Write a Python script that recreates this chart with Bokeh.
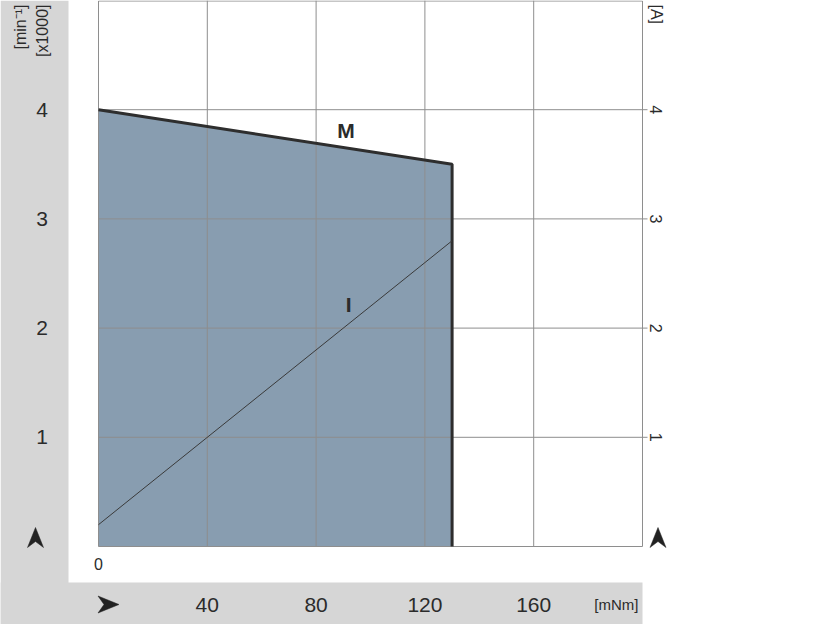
import math
from bokeh.plotting import figure
from bokeh.models import Range1d
from bokeh.embed import file_html
from bokeh.resources import INLINE
from bokeh.core.properties import value

# ---- data ----
torque = [0, 130]          # mNm
speed = [4.0, 3.5]         # min^-1 x1000 (M curve)
current = [0.2, 2.8]       # A (I curve)
x_ticks = [40, 80, 120, 160]
x_tick_labels = ["40", "80", "120", "160"]
y_ticks = [1, 2, 3, 4]
y_tick_labels = ["1", "2", "3", "4"]
a_ticks = [1, 2, 3, 4]
a_tick_labels = ["1", "2", "3", "4"]
curve_labels = ["M", "I"]
label_x = [91, 92]
label_y = [3.81, 2.22]

FONT = value("Liberation Sans")
GRAY_BAND = "#d6d6d6"
GRID = "#8e8e8e"
TXT = "#2b2b2b"

W, H = 816, 624
X0, X1 = 0, 200
Y0, Y1 = 0, 5
FL, FR, FT, FB = 98, 642, 0, 546   # plot-area edges in page pixels
SX = (X1 - X0) / (FR - FL)          # data units per pixel
SY = (Y1 - Y0) / (FB - FT)


def dx(px):
    return X0 + (px - FL) * SX


def dy(py):
    return Y0 + (FB - py) * SY


p = figure(width=W, height=H, x_range=Range1d(dx(0), dx(W)), y_range=Range1d(dy(H), dy(0)),
           output_backend="svg", toolbar_location=None,
           min_border=0, x_axis_location=None, y_axis_location=None,
           background_fill_color="white", border_fill_color="white")
p.outline_line_color = None
p.xgrid.visible = False
p.ygrid.visible = False

# gray bands
p.quad(left=[dx(0), dx(0)], right=[dx(68), dx(FR)], bottom=[dy(H), dy(H)], top=[dy(0), dy(582)],
       fill_color=GRAY_BAND, line_color=None)

# filled operating area
p.varea(x=torque, y1=[Y0, Y0], y2=speed, fill_color="#889db0", fill_alpha=1)

# grid lines
p.segment(x0=x_ticks, y0=[Y0] * len(x_ticks), x1=x_ticks, y1=[Y1] * len(x_ticks),
          line_color=GRID, line_width=1)
p.segment(x0=[X0] * len(y_ticks), y0=y_ticks, x1=[X1] * len(y_ticks), y1=y_ticks,
          line_color=GRID, line_width=1)
# plot-area border
p.quad(left=[X0], right=[X1], bottom=[Y0], top=[Y1 - SY * 0.5], fill_color=None,
       line_color=GRID, line_width=1)
# right axis ticks
p.segment(x0=[X1] * len(a_ticks), y0=a_ticks, x1=[X1 + 5 * SX] * len(a_ticks), y1=a_ticks,
          line_color=GRID, line_width=1)

# M line with vertical drop
p.line(x=torque + [torque[-1]], y=speed + [Y0], line_color="#2e2e2e", line_width=3)
# I line
p.line(x=torque, y=current, line_color="#3a3a3a", line_width=1)

p.text(x=label_x, y=label_y, text=curve_labels, text_font=FONT,
       text_font_size="21px", text_font_style="bold", text_color=TXT,
       text_align="center", text_baseline="middle")

# left tick labels (speed x1000)
p.text(x=[dx(41.5)] * len(y_ticks), y=y_ticks, text=y_tick_labels, text_font=FONT,
       text_font_size="21px", text_color=TXT, text_align="center", text_baseline="middle")
# bottom tick labels
p.text(x=x_ticks, y=[dy(604)] * len(x_ticks), text=x_tick_labels, text_font=FONT,
       text_font_size="21px", text_color=TXT, text_align="center", text_baseline="middle")
p.text(x=[X0], y=[dy(563)], text=["0"], text_font=FONT,
       text_font_size="16px", text_color=TXT, text_align="center", text_baseline="middle")
# right tick labels (current)
p.text(x=[X1 + 13 * SX] * len(a_ticks), y=a_ticks, text=a_tick_labels, text_font=FONT,
       text_font_size="16px", text_color=TXT, text_align="center", text_baseline="middle",
       angle=-math.pi / 2)

# unit labels
p.text(x=[dx(20), dx(42)], y=[dy(4), dy(4)], text=["[min\u207b\u00b9]", "[x1000]"],
       text_font=FONT, text_font_size="16px", text_color=TXT, text_align="right",
       text_baseline="middle", angle=math.pi / 2)
p.text(x=[dx(656)], y=[dy(4)], text=["[A]"], text_font=FONT, text_font_size="16px",
       text_color=TXT, text_align="left", text_baseline="middle", angle=-math.pi / 2)
p.text(x=[dx(638)], y=[dy(604)], text=["[mNm]"], text_font=FONT, text_font_size="15px",
       text_color=TXT, text_align="right", text_baseline="middle")


# arrowheads (stealth shape), defined in page pixels around a centre
def up_arrow(cx, cy):
    pts = [(cx, cy - 10), (cx + 8, cy + 10), (cx, cy + 4), (cx - 8, cy + 10)]
    return [dx(a) for a, b in pts], [dy(b) for a, b in pts]


def right_arrow(cx, cy):
    pts = [(cx + 11, cy), (cx - 10, cy + 8.5), (cx - 4, cy), (cx - 10, cy - 8.5)]
    return [dx(a) for a, b in pts], [dy(b) for a, b in pts]


ax1, ay1 = up_arrow(35, 537)
ax2, ay2 = up_arrow(657.5, 537)
ax3, ay3 = right_arrow(107.5, 604)
p.patches(xs=[ax1, ax2, ax3], ys=[ay1, ay2, ay3], fill_color="#222222", line_color="#222222",
          line_width=0.5)

open("out.html", "w").write(file_html(p, INLINE))
